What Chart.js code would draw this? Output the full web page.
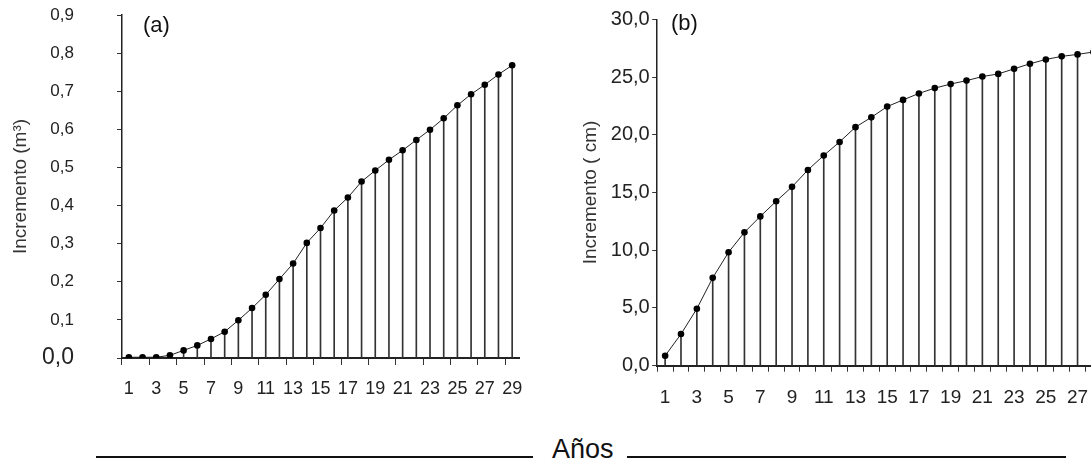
<!DOCTYPE html>
<html><head><meta charset="utf-8">
<script src="https://cdn.jsdelivr.net/npm/chart.js@4.4.0/dist/chart.umd.min.js"></script>
<style>
html,body{margin:0;padding:0;background:#fff;overflow:hidden;width:1091px;height:469px;position:relative}
#wa{position:absolute;left:0;top:-45px;width:540px;height:465px}
#wb{position:absolute;left:560px;top:0;width:580px;height:420px}
.lbl{position:absolute;font-family:Arial,'Liberation Sans',sans-serif;color:#111;white-space:nowrap;line-height:1}
.hl{position:absolute;height:2px;background:#111;top:455.5px}
</style></head><body>
<div id="wa"><canvas id="ca"></canvas></div>
<div id="wb"><canvas id="cb"></canvas></div>
<div class="lbl" style="left:143px;top:14px;font-size:22px">(a)</div>
<div class="lbl" style="left:671px;top:12px;font-size:22px">(b)</div>
<div class="hl" style="left:96px;width:437px"></div>
<div class="hl" style="left:627px;width:439px"></div>
<div class="lbl" style="left:552px;top:436px;font-size:27px">Años</div>
<script>
const years = ['1','2','3','4','5','6','7','8','9','10','11','12','13','14','15','16','17','18','19','20','21','22','23','24','25','26','27','28','29'];
const volumeA = [0.002,0.002,0.002,0.007,0.020,0.033,0.050,0.069,0.099,0.131,0.166,0.207,0.248,0.302,0.341,0.387,0.421,0.463,0.492,0.520,0.545,0.572,0.599,0.629,0.663,0.692,0.717,0.744,0.768];
const diameterB = [0.86,2.74,4.93,7.61,9.83,11.55,12.93,14.24,15.49,16.95,18.21,19.38,20.66,21.51,22.44,23.02,23.58,24.04,24.39,24.69,25.04,25.27,25.71,26.15,26.52,26.79,26.96,27.17,27.35];
const yTickLabelsA = ['0,0','0,1','0,2','0,3','0,4','0,5','0,6','0,7','0,8','0,9'];
const yTickLabelsB = ['0,0','5,0','10,0','15,0','20,0','25,0','30,0'];
const titleA = 'Incremento (m³)';
const titleB = 'Incremento ( cm)';

const FAM = "Arial, 'Liberation Sans', sans-serif";
Chart.defaults.font.family = FAM;
Chart.defaults.color = '#222';

function datasets(vals){
  return [
    {type:'line', data:vals, borderColor:'#222', borderWidth:1, tension:0,
     pointRadius:3.3, pointBackgroundColor:'#000', pointBorderWidth:0, order:0},
    {type:'bar', data:vals, backgroundColor:'#333', barThickness:1, order:1}
  ];
}
const common = {
  responsive:true, maintainAspectRatio:false, animation:false,
  plugins:{legend:{display:false}, tooltip:{enabled:false}}
};

new Chart(document.getElementById('ca'), {
  data:{labels:years, datasets:datasets(volumeA)},
  options:Object.assign({}, common, {
    layout:{padding:{top:60,right:21,bottom:0,left:0}},
    scales:{
      x:{type:'category', offset:true,
         grid:{offset:true, drawOnChartArea:false, tickLength:7, lineWidth:1,
               color: c => (c.index !== undefined && c.index % 2 === 0) ? '#333' : 'rgba(0,0,0,0)'},
         border:{display:true, color:'#222', width:2},
         ticks:{autoSkip:false, maxRotation:0, minRotation:0, padding:13.5, color:'#222',
                font:{size:18}, callback:(v,i)=> i % 2 === 0 ? years[i] : ''},
         afterFit:s=>{s.height=62;}},
      y:{min:0, max:0.9,
         grid:{drawOnChartArea:false, tickLength:5, color:'#333'},
         border:{display:true, color:'#222', width:1.5},
         ticks:{stepSize:0.1, padding:43, color:'#222',
                callback:(v,i)=> yTickLabelsA[i],
                font: c => (c.index === 0 ? {size:23} : {size:17})},
         title:{display:true, text:titleA, font:{size:19}, color:'#333', padding:{top:9}},
         afterFit:s=>{s.width=122;}}
    }
  })
});

new Chart(document.getElementById('cb'), {
  data:{labels:years, datasets:datasets(diameterB)},
  options:Object.assign({}, common, {
    layout:{padding:{top:19.3,right:22.8,bottom:0,left:0}},
    scales:{
      x:{type:'category', offset:true,
         grid:{offset:true, drawOnChartArea:false, tickLength:6, lineWidth:1, color:'#333'},
         border:{display:true, color:'#222', width:2},
         ticks:{autoSkip:false, maxRotation:0, minRotation:0, padding:14.4, color:'#222',
                font:{size:19}, callback:(v,i)=> i % 2 === 0 ? years[i] : ''},
         afterFit:s=>{s.height=54.3;}},
      y:{min:0, max:30,
         grid:{drawOnChartArea:false, tickLength:5, color:'#333'},
         border:{display:true, color:'#222', width:1.5},
         ticks:{stepSize:5, padding:2.5, color:'#222', font:{size:20},
                callback:(v,i)=> yTickLabelsB[i]},
         title:{display:true, text:titleB, font:{size:19}, color:'#333', padding:{top:19}},
         afterFit:s=>{s.width=97.2;}}
    }
  })
});
</script>
</body></html>
